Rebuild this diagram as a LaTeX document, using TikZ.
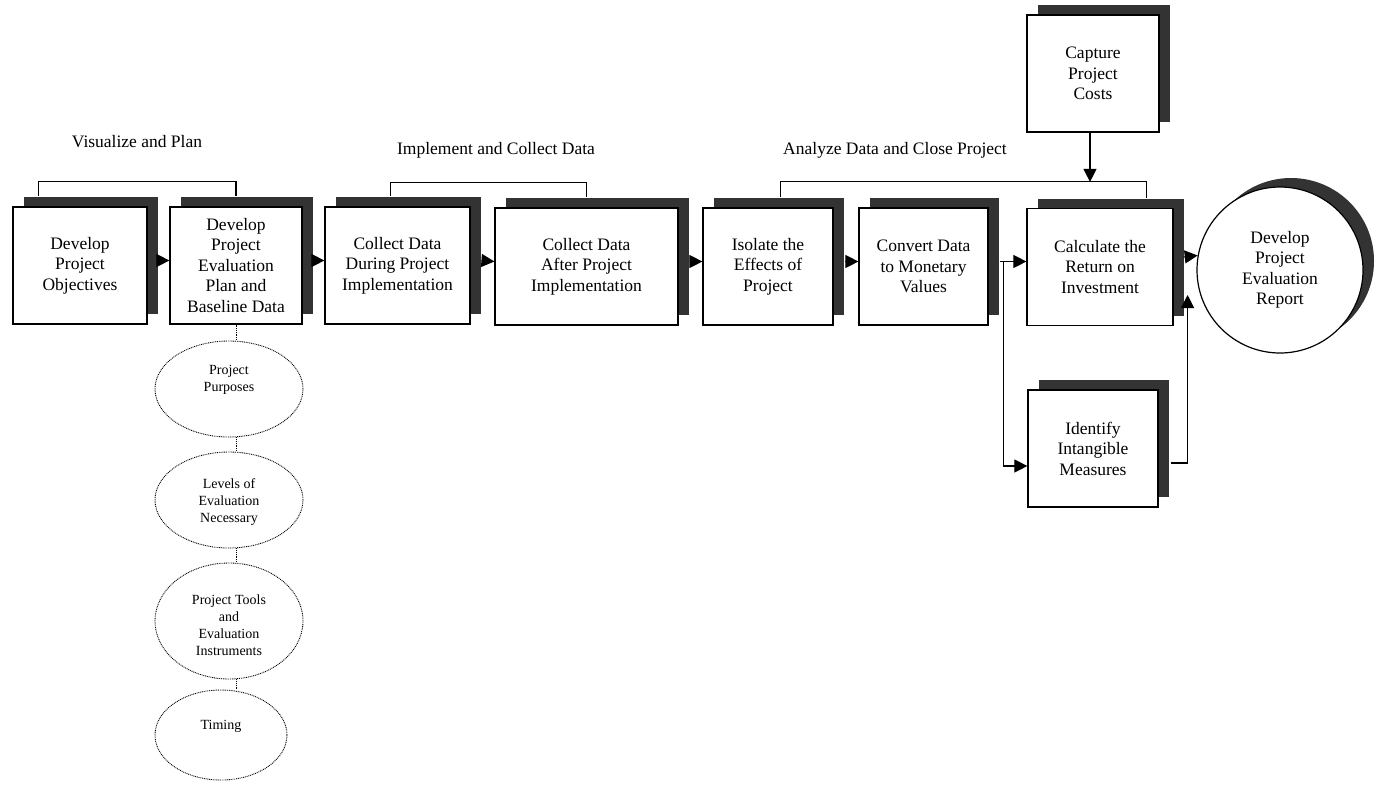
\documentclass[tikz,border=0pt]{standalone}
\usepackage{fontspec}
\setmainfont{Liberation Serif}
\usetikzlibrary{shapes.geometric,shadows,arrows.meta,calc}

\begin{document}
\begin{tikzpicture}[x=1pt,y=-1pt,
  every node/.style={font=\fontsize{17.5}{20.5}\selectfont, align=center},
  procbox/.style={draw, line width=1.2pt, fill=white, inner sep=0pt,
    minimum height=117pt,
    drop shadow={shadow xshift=11pt, shadow yshift=10pt, fill=black!80, opacity=1}},
  repcircle/.style={circle, draw, line width=1.2pt, fill=white, inner sep=0pt,
    minimum size=166pt,
    drop shadow={shadow xshift=11pt, shadow yshift=9pt, fill=black!80, opacity=1}},
  ell/.style={ellipse, draw, line width=0.9pt, dash pattern=on 0.9pt off 0.9pt,
    inner sep=0pt},
  etext/.style={font=\fontsize{14}{17}\selectfont, align=center},
  dotline/.style={line width=0.9pt, dash pattern=on 0.9pt off 0.9pt},
  conn/.style={line width=1.1pt},
  arr/.style={conn, -{Triangle[length=13pt,width=13pt]}}
]
\useasboundingbox (0,0) rectangle (1384,785);

% phase headings
\node (h1) at (137,142) {Visualize and Plan};
\node (h2) at (496,150) {Implement and Collect Data};
\node (h3) at (895,150) {Analyze Data and Close Project};

% process steps
\node[procbox, minimum width=134pt] (b1) at (80,265.5) {Develop\\Project\\Objectives};
\node[procbox, minimum width=132pt] (b2) at (236,265.5) {Develop\\Project\\Evaluation\\Plan and\\Baseline Data};
\node[procbox, minimum width=145pt] (b3) at (397.5,265.5) {Collect Data\\During Project\\Implementation};
\node[procbox, minimum width=183pt] (b4) at (586.5,266.5) {Collect Data\\After Project\\Implementation};
\node[procbox, minimum width=130pt] (b5) at (768,266.5) {Isolate the\\Effects of\\Project};
\node[procbox, minimum width=129pt] (b6) at (923.5,266.5) {Convert Data\\to Monetary\\Values};
\node[procbox, minimum width=146pt] (b7) at (1100,267) {Calculate the\\Return on\\Investment};
\node[procbox, minimum width=132pt] (b8) at (1093,73.5) {Capture\\Project\\Costs};
\node[procbox, minimum width=130pt] (b9) at (1093,448.5) {Identify\\Intangible\\Measures};
\node[repcircle] (rep) at (1280,270) {Develop\\Project\\Evaluation\\Report};

% planning elements
\node[ell, minimum width=148pt, minimum height=96pt,
  label={[etext, yshift=9pt]center:{Project\\Purposes}}] (e1) at (229,389) {};
\node[ell, minimum width=148pt, minimum height=96pt,
  label={[etext, yshift=-2pt]center:{Levels of\\Evaluation\\Necessary}}] (e2) at (229,500) {};
\node[ell, minimum width=148pt, minimum height=116pt,
  label={[etext, yshift=-4pt]center:{Project Tools\\and\\Evaluation\\Instruments}}] (e3) at (229,621) {};
\node[ell, minimum width=132pt, minimum height=90pt,
  label={[etext, yshift=9pt]center:{Timing}}] (e4) at (221,735) {};

\draw[dotline] (b2.south) -- (b2.south |- e1.north);
\draw[dotline] (b2.south |- e1.south) -- (b2.south |- e2.north);
\draw[dotline] (b2.south |- e2.south) -- (b2.south |- e3.north);
\draw[dotline] (b2.south |- e3.south) -- (b2.south |- e4.north);

% phase brackets
\coordinate (k3) at ([xshift=-27pt,yshift=26pt]b7.north east);
\draw[conn] ([xshift=26pt,yshift=10pt]b1.north west) -- ++(0,-15) -| ([yshift=10pt]b2.north);
\draw[conn] ([xshift=66pt,yshift=10pt]b3.north west) -- ++(0,-14) -| ([yshift=10pt]b4.north);
\draw[conn] ([xshift=78pt,yshift=10pt]b5.north west) |- (k3) -- ([xshift=-27pt,yshift=10pt]b7.north east);

% flow arrows
\draw[arr] ([xshift=11pt,yshift=5pt]b1.east) -- ([yshift=5pt]b2.west);
\draw[arr] ([xshift=11pt,yshift=5pt]b2.east) -- ([yshift=5pt]b3.west);
\draw[arr] ([xshift=11pt,yshift=5pt]b3.east) -- ([yshift=5pt]b4.west);
\draw[arr] ([xshift=11pt,yshift=5pt]b4.east) -- ([yshift=5pt]b5.west);
\draw[arr] ([xshift=11pt,yshift=5pt]b5.east) -- ([yshift=5pt]b6.west);
\draw[arr] ([xshift=11pt,yshift=5pt]b6.east) -- ([yshift=5.5pt]b7.west);
\coordinate (j1) at ([xshift=15pt,yshift=5pt]b6.east);
\draw[arr] (j1) |- ([yshift=-17.5pt]b9.west);
\draw[arr] ([xshift=12pt,yshift=-14.5pt]b9.east) -| ([xshift=14pt,yshift=-28pt]b7.east);
\draw[arr] ([xshift=10pt,yshift=10pt]b7.east) -- (rep.170);
\draw[arr] ([xshift=-3pt]b8.south) -- ([xshift=-3pt]b8.south |- k3);
\end{tikzpicture}
\end{document}
